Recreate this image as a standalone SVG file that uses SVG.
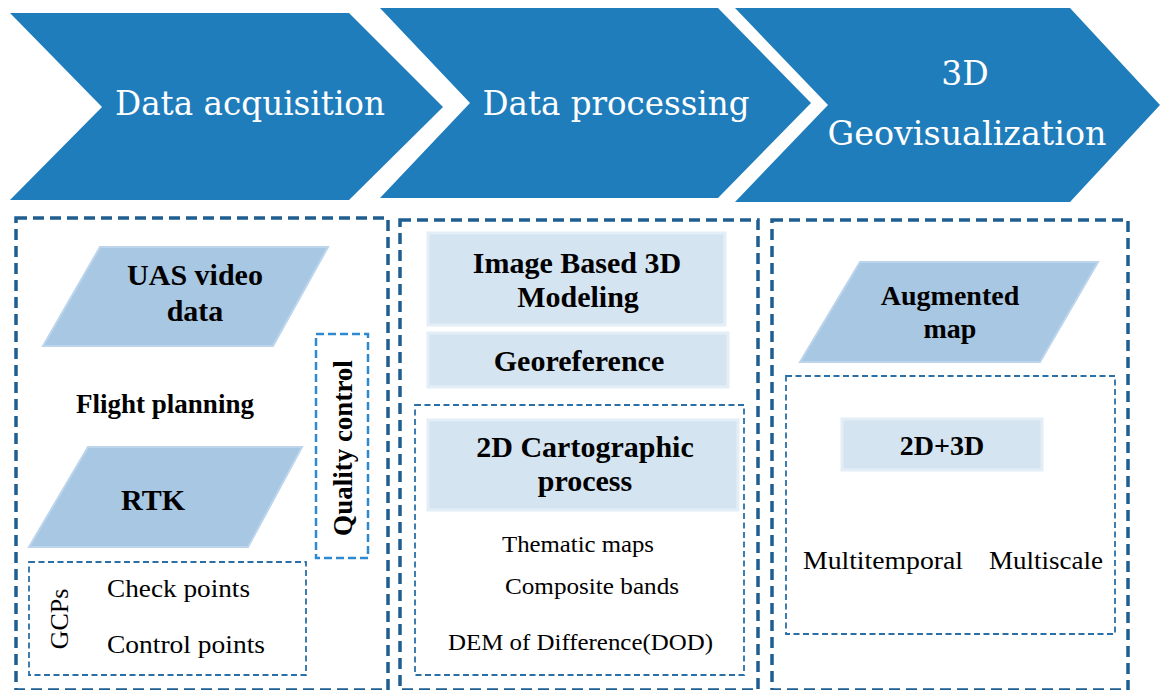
<svg xmlns="http://www.w3.org/2000/svg" width="1160" height="690" viewBox="0 0 1160 690">
<style>
.chev{fill:#1f7dbc}
.htx{fill:#fff;text-anchor:middle}
.outer{fill:none;stroke:#1f5e91;stroke-width:3.5;stroke-dasharray:11 6}
.inner{fill:none;stroke:#2a6fa6;stroke-width:1.8;stroke-dasharray:6 3.5}
.qc{fill:none;stroke:#2d8ad0;stroke-width:2.5;stroke-dasharray:8 4}
.para{fill:#a8c7e3;stroke:#bcd5ec;stroke-width:2}
.rect{fill:#d5e4f1;stroke:#e4eef7;stroke-width:3}
</style>
<rect width="1160" height="690" fill="#fff"/>
<g id="header-acquisition">
<polygon class="chev" points="10,13 349,13 443,107 349,200 10,200 102,107"/>
<text class="htx" font-family="'DejaVu Serif', serif" font-size="33" x="250" y="115" textLength="270" lengthAdjust="spacingAndGlyphs">Data acquisition</text>
</g>
<g id="header-processing">
<polygon class="chev" points="380,8 718,8 811,103 718,198 380,198 470,103"/>
<text class="htx" font-family="'DejaVu Serif', serif" font-size="33" x="616" y="115" textLength="267" lengthAdjust="spacingAndGlyphs">Data processing</text>
</g>
<g id="header-geovis">
<polygon class="chev" points="735,8 1070,8 1160,105 1070,202 735,202 828,105"/>
<text class="htx" font-family="'DejaVu Serif', serif" font-size="33" x="965" y="85">3D</text>
<text class="htx" font-family="'DejaVu Serif', serif" font-size="33" x="967" y="145" textLength="279" lengthAdjust="spacingAndGlyphs">Geovisualization</text>
</g>
<g id="acquisition">
<rect class="outer" x="16" y="218" width="372" height="472"/>
<g id="uas">
<polygon class="para" points="100,247 328,247 273,346 43,346"/>
<text font-family="'Liberation Serif', serif" font-weight="bold" text-anchor="middle" x="195" y="285" font-size="30">UAS video</text>
<text font-family="'Liberation Serif', serif" font-weight="bold" text-anchor="middle" x="195" y="321" font-size="30">data</text>
</g>
<text id="flight" font-family="'Liberation Serif', serif" font-weight="bold" text-anchor="middle" x="165" y="413" font-size="27">Flight planning</text>
<g id="rtk">
<polygon class="para" points="88,447 302,447 248,547 29,547"/>
<text font-family="'Liberation Serif', serif" font-weight="bold" text-anchor="middle" x="153" y="510" font-size="30">RTK</text>
</g>
<g id="quality">
<rect class="qc" x="316" y="334" width="52" height="224"/>
<text font-family="'Liberation Serif', serif" font-weight="bold" text-anchor="middle" transform="translate(352,448) rotate(-90)" font-size="27">Quality control</text>
</g>
<g id="gcps">
<rect class="inner" x="29" y="562" width="277" height="113"/>
<text font-family="'Liberation Serif', serif" transform="translate(68,619) rotate(-90)" font-size="26" text-anchor="middle">GCPs</text>
<text font-family="'Liberation Serif', serif" x="107" y="597" font-size="26" textLength="143" lengthAdjust="spacingAndGlyphs">Check points</text>
<text font-family="'Liberation Serif', serif" x="107" y="653" font-size="26" textLength="158" lengthAdjust="spacingAndGlyphs">Control points</text>
</g>
</g>
<g id="processing">
<rect class="outer" x="400" y="220" width="358" height="470"/>
<g id="ibm">
<rect class="rect" x="428" y="233" width="297" height="92"/>
<text font-family="'Liberation Serif', serif" font-weight="bold" text-anchor="middle" x="577" y="273" font-size="30">Image Based 3D</text>
<text font-family="'Liberation Serif', serif" font-weight="bold" text-anchor="middle" x="578" y="307" font-size="30">Modeling</text>
</g>
<g id="georef">
<rect class="rect" x="428" y="333" width="300" height="54"/>
<text font-family="'Liberation Serif', serif" font-weight="bold" text-anchor="middle" x="579" y="371" font-size="30">Georeference</text>
</g>
<g id="carto">
<rect class="inner" x="415" y="405" width="329" height="270"/>
<rect class="rect" x="428" y="420" width="310" height="90"/>
<text font-family="'Liberation Serif', serif" font-weight="bold" text-anchor="middle" x="585" y="457" font-size="30">2D Cartographic</text>
<text font-family="'Liberation Serif', serif" font-weight="bold" text-anchor="middle" x="585" y="491" font-size="30">process</text>
<text font-family="'Liberation Serif', serif" x="502" y="552" font-size="24" textLength="152" lengthAdjust="spacingAndGlyphs">Thematic maps</text>
<text font-family="'Liberation Serif', serif" x="505" y="594" font-size="24" textLength="174" lengthAdjust="spacingAndGlyphs">Composite bands</text>
<text font-family="'Liberation Serif', serif" x="448" y="650" font-size="24" textLength="265" lengthAdjust="spacingAndGlyphs">DEM of Difference(DOD)</text>
</g>
</g>
<g id="geovis">
<rect class="outer" x="772" y="220" width="356" height="470"/>
<g id="augmented">
<polygon class="para" points="860,262 1098,262 1040,362 800,362"/>
<text font-family="'Liberation Serif', serif" font-weight="bold" text-anchor="middle" x="950" y="305" font-size="28">Augmented</text>
<text font-family="'Liberation Serif', serif" font-weight="bold" text-anchor="middle" x="950" y="338" font-size="28">map</text>
</g>
<g id="dims">
<rect class="inner" x="786" y="376" width="329" height="258"/>
<rect class="rect" x="842" y="419" width="200" height="51"/>
<text font-family="'Liberation Serif', serif" font-weight="bold" text-anchor="middle" x="942" y="455" font-size="28">2D+3D</text>
<text font-family="'Liberation Serif', serif" x="803" y="569" font-size="26" textLength="160" lengthAdjust="spacingAndGlyphs">Multitemporal</text>
<text font-family="'Liberation Serif', serif" x="989" y="569" font-size="26" textLength="114" lengthAdjust="spacingAndGlyphs">Multiscale</text>
</g>
</g>
<g id="connectors"></g>
</svg>
